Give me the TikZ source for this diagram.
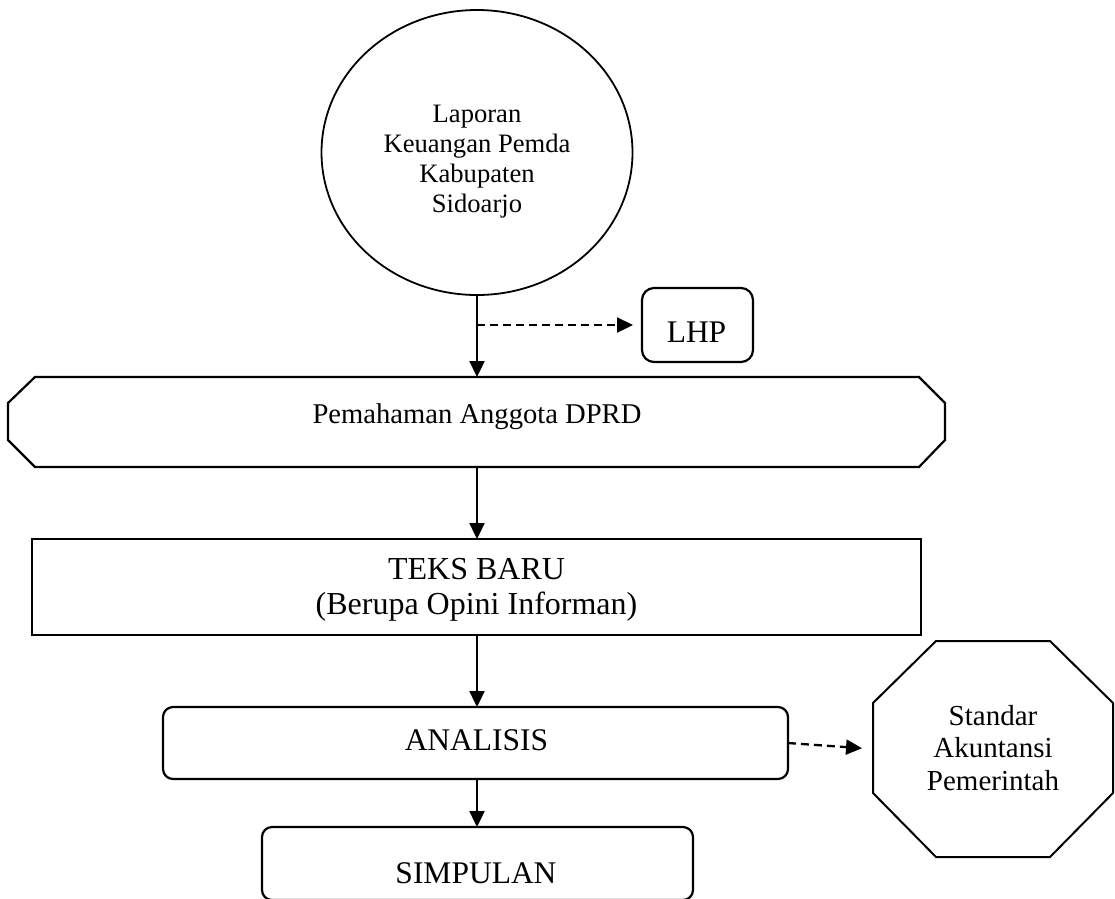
\documentclass[tikz,border=0pt]{standalone}
\usepackage{fontspec}
\setmainfont{Liberation Serif}
\usetikzlibrary{arrows.meta,shapes.geometric}
\begin{document}
\begin{tikzpicture}[x=1pt,y=-1pt,
  conn/.style={line width=2.3pt,-{Triangle[length=16pt,width=15pt]}},
  dconn/.style={conn,dash pattern=on 8pt off 5pt},
  outline/.style={draw,line width=2.2pt},
  ghost/.style={inner sep=0pt,outer sep=0pt},
  txt/.style={inner sep=0pt,align=center}]
\useasboundingbox (0,0) rectangle (1115,898);
\clip (0,0) rectangle (1115,898);
% circle
\node[ghost,ellipse,draw,line width=1.8pt,minimum width=311pt,minimum height=285pt] (lap) at (477,152.5) {};
\node[txt,font=\fontsize{26.6}{30}\selectfont] (lapt) at (477,162) {Laporan\\Keuangan Pemda\\Kabupaten\\Sidoarjo};
% LHP
\node[ghost,outline,rounded corners=12pt,minimum width=111pt,minimum height=74pt] (lhp) at (697.5,325) {};
\node[txt,anchor=base,font=\fontsize{31.5}{36}\selectfont] (lhpt) at (696.5,342) {LHP};
% banner
\node[ghost,minimum width=937pt,minimum height=90pt] (pem) at (476.5,422) {};
\draw[outline,line join=miter] ([xshift=27pt]pem.north west) -- ([xshift=-26pt]pem.north east)
  -- ([yshift=-26pt]pem.north east) -- ([yshift=27pt]pem.south east)
  -- ([xshift=-26pt]pem.south east) -- ([xshift=27pt]pem.south west)
  -- ([yshift=27pt]pem.south west) -- ([yshift=-26pt]pem.north west) -- cycle;
\node[txt,anchor=base,font=\fontsize{28.6}{33}\selectfont] (pemt) at (477,423) {Pemahaman Anggota DPRD};
% teks baru
\node[ghost,outline,minimum width=889pt,minimum height=96pt] (teks) at (476.5,587) {};
\node[txt,font=\fontsize{32}{35}\selectfont] (tekst) at (476.5,589.7) {TEKS BARU\\(Berupa Opini Informan)};
% analisis
\node[ghost,outline,rounded corners=10pt,minimum width=625pt,minimum height=72pt] (ana) at (475.5,743) {};
\node[txt,anchor=base,font=\fontsize{31.5}{36}\selectfont] (anat) at (476.5,750) {ANALISIS};
% simpulan
\node[ghost,outline,rounded corners=10pt,minimum width=431pt,minimum height=73pt] (sim) at (477.5,863.5) {};
\node[txt,anchor=base,font=\fontsize{31.5}{36}\selectfont] (simt) at (476,883) {SIMPULAN};
% octagon
\node[ghost,minimum width=240pt,minimum height=216pt] (sap) at (993,749) {};
\draw[outline,line width=2pt,line join=miter] ([xshift=63pt]sap.north west) -- ([xshift=-63pt]sap.north east)
  -- ([yshift=-62pt]sap.north east) -- ([yshift=64pt]sap.south east)
  -- ([xshift=-63pt]sap.south east) -- ([xshift=63pt]sap.south west)
  -- ([yshift=64pt]sap.south west) -- ([yshift=-62pt]sap.north west) -- cycle;
\node[txt,font=\fontsize{29}{32.5}\selectfont] (sapt) at (993,747.6) {Standar\\Akuntansi\\Pemerintah};
% connectors
\coordinate (j) at (477,325);
\draw[conn] (lap.south) -- (lap.south |- pem.north);
\draw[dconn,shorten >=9pt] (j) -- (lhp.west |- j);
\draw[conn] (lap.south |- pem.south) -- (lap.south |- teks.north);
\draw[conn] (lap.south |- teks.south) -- (lap.south |- ana.north);
\draw[conn] (lap.south |- ana.south) -- (lap.south |- sim.north);
\draw[dconn,shorten >=11pt] (ana.east) -- (sap.west);
\end{tikzpicture}
\end{document}
